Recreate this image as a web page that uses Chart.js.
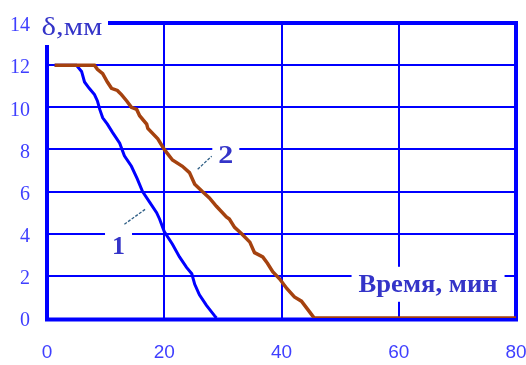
<!DOCTYPE html>
<html>
<head>
<meta charset="utf-8">
<script src="https://cdn.jsdelivr.net/npm/chart.js@4/dist/chart.umd.min.js"></script>
<style>
  html, body { margin: 0; padding: 0; background: #fff; }
  #wrap { width: 526px; height: 365px; }
</style>
</head>
<body>
<div id="wrap"><canvas id="chart"></canvas></div>
<script>
// Curve 1 (blue) and curve 2 (brown): time, min -> thickness δ, mm
const curve1Time  = [1.3, 5.0, 5.9, 6.4, 7.2, 8.1, 8.6, 9.0, 9.5, 10.3, 11.2, 12.4, 13.2, 14.4, 15.4, 16.3, 17.5, 18.7, 19.2, 20.0, 21.4, 22.6, 23.8, 24.7, 25.2, 26.0, 27.2, 28.6, 28.9];
const curve1Depth = [12, 12, 11.7, 11.2, 10.9, 10.6, 10.3, 9.9, 9.5, 9.2, 8.8, 8.3, 7.7, 7.2, 6.6, 6.0, 5.5, 5.0, 4.7, 4.1, 3.5, 2.9, 2.4, 2.1, 1.6, 1.1, 0.6, 0.1, 0];

const curve2Time  = [1.3, 8.1, 8.6, 9.5, 10.3, 11.0, 12.0, 12.7, 13.6, 14.4, 15.3, 15.8, 17.0, 17.2, 18.9, 20.0, 21.4, 23.1, 24.3, 25.2, 26.5, 27.7, 28.9, 30.6, 31.1, 32.0, 33.2, 34.6, 35.4, 36.8, 37.6, 38.5, 39.7, 40.9, 42.2, 43.4, 44.5, 45.3, 45.6, 80];
const curve2Depth = [12, 12, 11.8, 11.6, 11.2, 10.9, 10.8, 10.6, 10.3, 10.0, 9.9, 9.6, 9.2, 9.0, 8.5, 8.0, 7.5, 7.2, 6.9, 6.35, 6.0, 5.7, 5.3, 4.8, 4.7, 4.3, 4.0, 3.6, 3.1, 2.9, 2.6, 2.2, 1.85, 1.4, 1.0, 0.8, 0.4, 0.1, 0, 0];

const timeTicks  = [0, 20, 40, 60, 80];
const depthTicks = [0, 2, 4, 6, 8, 10, 12, 14];

const depthTitle = 'δ,мм';
const timeTitle  = 'Время, мин';
const curveNames = ['1', '2'];

const BLUE = '#0000ff';
const BROWN = '#a5420f';
const LABEL = '#3f3fff';
const NOTE = '#3434c8';

function toPoints(xs, ys) {
  return xs.map((x, i) => ({ x: x, y: ys[i] }));
}

// text squeezed/stretched horizontally to a given width
function fitText(ctx, text, cx, cy, width) {
  const k = width / ctx.measureText(text).width;
  ctx.save();
  ctx.translate(cx, cy);
  ctx.scale(k, 1);
  ctx.fillText(text, 0, 0);
  ctx.restore();
}

// thick frame drawn under the curves; left axis and top edge leave room for the unit label
const framePlugin = {
  id: 'frame',
  beforeDatasetsDraw(chart) {
    const { ctx, chartArea: a } = chart;
    ctx.save();
    ctx.strokeStyle = BLUE;
    ctx.lineWidth = 4;
    ctx.lineCap = 'square';
    ctx.beginPath();
    ctx.moveTo(a.left, a.top + 24);
    ctx.lineTo(a.left, a.bottom + 1.5);
    ctx.lineTo(a.right, a.bottom + 1.5);
    ctx.lineTo(a.right, a.top);
    ctx.lineTo(a.left + 63, a.top);
    ctx.stroke();
    ctx.restore();
  }
};

// curve numbers, leader lines and axis titles on white patches
const notesPlugin = {
  id: 'notes',
  afterDatasetsDraw(chart) {
    const { ctx, chartArea: a, scales: { x, y } } = chart;
    ctx.save();

    const leaders = [
      [13.2, 4.45, 16.8, 5.17],
      [25.7, 7.06, 28.1, 7.68]
    ];
    ctx.strokeStyle = '#2f5f86';
    ctx.lineWidth = 1.3;
    ctx.setLineDash([3, 1.5]);
    leaders.forEach(l => {
      ctx.beginPath();
      ctx.moveTo(x.getPixelForValue(l[0]), y.getPixelForValue(l[1]));
      ctx.lineTo(x.getPixelForValue(l[2]), y.getPixelForValue(l[3]));
      ctx.stroke();
    });
    ctx.setLineDash([]);

    const notes = [
      { text: curveNames[0], x: 12.2, y: 3.4, w: 27, h: 34, tw: 13 },
      { text: curveNames[1], x: 30.5, y: 7.7, w: 27, h: 28, tw: 15 },
      { text: timeTitle, x: 65.0, y: 1.6, w: 153, h: 35, tw: 139 }
    ];
    ctx.textAlign = 'center';
    ctx.textBaseline = 'middle';
    ctx.font = 'bold 25px "Liberation Serif"';
    notes.forEach(n => {
      const px = x.getPixelForValue(n.x);
      const py = y.getPixelForValue(n.y);
      ctx.fillStyle = '#fff';
      ctx.fillRect(px - n.w / 2, py - n.h / 2, n.w, n.h);
      ctx.fillStyle = NOTE;
      fitText(ctx, n.text, px, py + 1, n.tw);
    });

    ctx.font = '25px "Liberation Serif"';
    ctx.fillStyle = NOTE;
    fitText(ctx, depthTitle, a.left + 25, a.top + 5, 61);
    ctx.restore();
  }
};

new Chart(document.getElementById('chart'), {
  type: 'line',
  data: {
    datasets: [
      {
        label: curveNames[1],
        data: toPoints(curve2Time, curve2Depth),
        borderColor: BROWN,
        borderWidth: 3.5,
        pointRadius: 0,
        tension: 0
      },
      {
        label: curveNames[0],
        data: toPoints(curve1Time, curve1Depth),
        borderColor: BLUE,
        borderWidth: 3,
        pointRadius: 0,
        tension: 0
      }
    ]
  },
  options: {
    responsive: true,
    maintainAspectRatio: false,
    animation: false,
    layout: { padding: { top: 23, right: 10, left: 0, bottom: 0 } },
    plugins: {
      legend: { display: false },
      tooltip: { enabled: false }
    },
    scales: {
      x: {
        type: 'linear',
        min: timeTicks[0],
        max: timeTicks[timeTicks.length - 1],
        afterBuildTicks: s => { s.ticks = timeTicks.map(v => ({ value: v })); },
        afterFit: s => { s.height = 47; s.paddingLeft = 0; s.paddingRight = 0; },
        border: { display: false },
        grid: {
          drawTicks: false,
          lineWidth: 2,
          color: c => (c.tick && c.tick.value > timeTicks[0] && c.tick.value < timeTicks[timeTicks.length - 1]) ? BLUE : 'transparent'
        },
        ticks: {
          color: LABEL,
          padding: 23,
          maxRotation: 0,
          font: { family: '"Liberation Sans"', size: 19 }
        }
      },
      y: {
        min: depthTicks[0],
        max: depthTicks[depthTicks.length - 1],
        afterBuildTicks: s => { s.ticks = depthTicks.map(v => ({ value: v })); },
        afterFit: s => { s.width = 47; s.paddingTop = 0; s.paddingBottom = 0; },
        border: { display: false },
        grid: {
          drawTicks: false,
          lineWidth: 2,
          color: c => (c.tick && c.tick.value > depthTicks[0] && c.tick.value < depthTicks[depthTicks.length - 1]) ? BLUE : 'transparent'
        },
        ticks: {
          color: LABEL,
          padding: 17,
          labelOffset: 3,
          font: { family: '"Liberation Serif"', size: 20 }
        }
      }
    }
  },
  plugins: [framePlugin, notesPlugin]
});
</script>
</body>
</html>
